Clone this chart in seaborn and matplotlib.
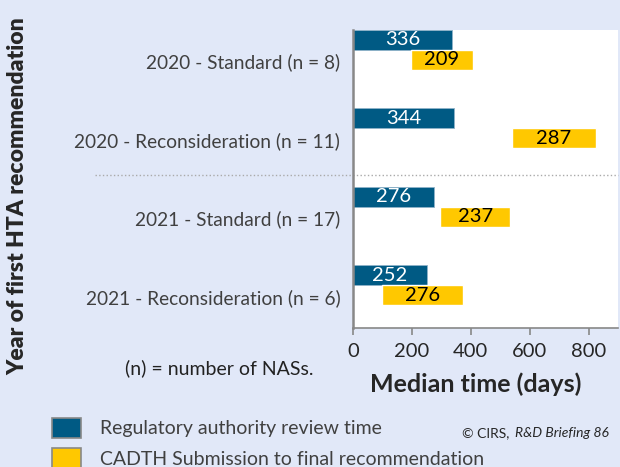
import numpy as np
import pandas as pd
import matplotlib
matplotlib.use("Agg")
import matplotlib.pyplot as plt
import seaborn as sns
from matplotlib.patches import Patch

#data
categories = ['2020 - Standard (n = 8)', '2020 - Reconsideration (n = 11)',
              '2021 - Standard (n = 17)', '2021 - Reconsideration (n = 6)']
regulatory = [336, 344, 276, 252]
cadth = [209, 287, 237, 276]
cadth_start = [198, 539, 297, 98]

blue = '#005A84'
yellow = '#FFC800'
bg = '#E1E8F8'

sns.set_style('white')
plt.rcParams['font.family'] = ['Lato', 'DejaVu Sans']

fig = plt.figure(figsize=(6.2, 4.67), dpi=100, facecolor=bg)
ax = fig.add_axes([0.569, 0.298, 0.428, 0.638])
ax.set_facecolor('white')

pos = np.arange(len(categories))
df = pd.DataFrame({'pos': pos - 0.268, 'days': regulatory})

#regulatory review bars
sns.barplot(data=df, x='days', y='pos', orient='h', native_scale=True,
            color=blue, width=0.255, saturation=1, edgecolor='#8fb3c9',
            linewidth=0.6, ax=ax)
ax.bar_label(ax.containers[0], labels=[str(v) for v in regulatory],
             label_type='center', color='white', fontsize=14.5)

#CADTH bars, floating
yb = ax.barh(pos - 0.013, cadth, left=cadth_start, height=0.255, color=yellow)
ax.bar_label(yb, labels=[str(v) for v in cadth], label_type='center',
             color='black', fontsize=14.5)

ax.set_xlim(0, 900)
ax.set_ylim(3.4, -0.395)
ax.set_yticks(pos)
ax.set_yticklabels(categories, fontsize=13.8, color='#404040')
ax.set_xticks([0, 200, 400, 600, 800])
ax.tick_params(axis='x', labelsize=14.5, length=5, width=1.2, color='#888888',
               direction='out', bottom=True, pad=6)
ax.tick_params(axis='y', length=0, pad=9)

for s in ['top', 'right']:
    ax.spines[s].set_visible(False)
ax.spines['left'].set_color('#888888')
ax.spines['left'].set_linewidth(1.8)
ax.spines['bottom'].set_color('#888888')
ax.spines['bottom'].set_linewidth(1.2)

ax.set_xlabel('Median time (days)', fontsize=18, fontweight='bold')
ax.xaxis.set_label_coords(0.464, -0.15)
ax.set_ylabel('')

#separator between years
trans = ax.get_yaxis_transform()
ax.plot([-0.97, 1.0], [1.45, 1.45], transform=trans, color='#aaaaaa',
        linestyle=':', linewidth=1, clip_on=False)

fig.text(0.029, 0.58, 'Year of first HTA recommendation', rotation=90,
         fontsize=16.5, fontweight='heavy', ha='center', va='center')
fig.text(0.354, 0.212, '(n) = number of NASs.', fontsize=14, ha='center',
         va='center', color='#222222')

handles = [Patch(facecolor=blue, edgecolor='#888888', linewidth=1.2),
           Patch(facecolor=yellow, edgecolor='#888888', linewidth=1.2)]
fig.legend(handles, ['Regulatory authority review time',
                     'CADTH Submission to final recommendation'],
           loc='upper left', bbox_to_anchor=(0.055, 0.143), frameon=False,
           fontsize=14, handlelength=1.5, handleheight=1.2,
           labelspacing=0.55, handletextpad=1.0, labelcolor='#404040')

fig.text(0.745, 0.072, '© CIRS, ', fontsize=10, ha='left', va='center')
fig.text(0.831, 0.072, 'R&D Briefing 86', fontsize=10, ha='left',
         va='center', style='italic')

fig.savefig('out.png', dpi=100, facecolor=bg)
